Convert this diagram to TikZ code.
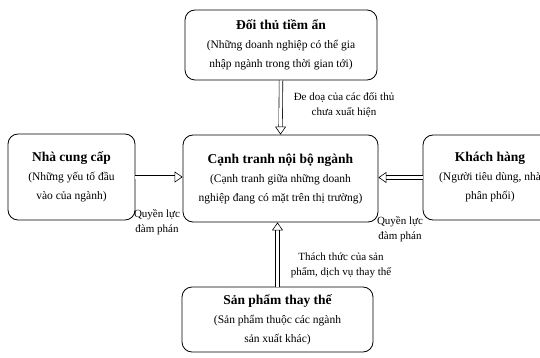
\documentclass[tikz,border=0pt]{standalone}
\usepackage{fontspec}
\setmainfont{Liberation Serif}
\usetikzlibrary{arrows.meta}

\begin{document}
\begin{tikzpicture}[x=1pt, y=-1pt,
    box/.style={draw, line width=0.8pt, rounded corners=10pt, align=center,
        inner sep=0pt, font=\fontsize{11.5}{19}\selectfont},
    force/.style={double, double distance=3pt, line width=0.6pt,
        -{Triangle[open, length=8pt, width=11pt, line width=0.6pt]}},
    lbl/.style={align=center, font=\fontsize{11}{15}\selectfont}]

    \useasboundingbox (0,0) rectangle (540,358);

    % the five forces
    \node[box, minimum width=192pt, minimum height=70pt] (entrant) at (281,45)
        {{\fontsize{13.5}{19}\bfseries Đối thủ tiềm ẩn}\\(Những doanh nghiệp có thể gia\\nhập ngành trong thời gian tới)};
    \node[box, minimum width=127pt, minimum height=86pt] (supplier) at (71.5,177)
        {{\fontsize{13.5}{19}\bfseries Nhà cung cấp}\\(Những yếu tố đầu\\vào của ngành)};
    \node[box, minimum width=195pt, minimum height=87pt] (rivalry) at (280.5,178.5)
        {{\fontsize{13.5}{19}\bfseries Cạnh tranh nội bộ ngành}\\(Cạnh tranh giữa những doanh\\nghiệp đang có mặt trên thị trường)};
    \node[box, minimum width=134pt, minimum height=85pt] (buyer) at (490,177.5)
        {{\fontsize{13.5}{19}\bfseries Khách hàng}\\(Người tiêu dùng, nhà\\phân phối)};
    \node[box, minimum width=191pt, minimum height=65pt] (substitute) at (277.5,319.5)
        {{\fontsize{13.5}{19}\bfseries Sản phẩm thay thế}\\(Sản phẩm thuộc các ngành\\sản xuất khác)};

    % arrows towards the centre
    \draw[force] (entrant.south) -- (rivalry.north);
    \draw[force] (substitute.north) -- (substitute.north |- rivalry.south);
    \draw[force] (supplier.east) -- (supplier.east -| rivalry.west);
    \draw[force] (buyer.west) -- (buyer.west -| rivalry.east);

    \node[lbl] (threat) at (344,105) {Đe doạ của các đối thủ\\chưa xuất hiện};
    \node[lbl] (powerS) at (157,222) {Quyền lực\\đàm phán};
    \node[lbl] (powerB) at (400,229) {Quyền lực\\đàm phán};
    \node[lbl] (subst) at (341,265) {Thách thức của sản\\phẩm, dịch vụ thay thế};

\end{tikzpicture}
\end{document}
